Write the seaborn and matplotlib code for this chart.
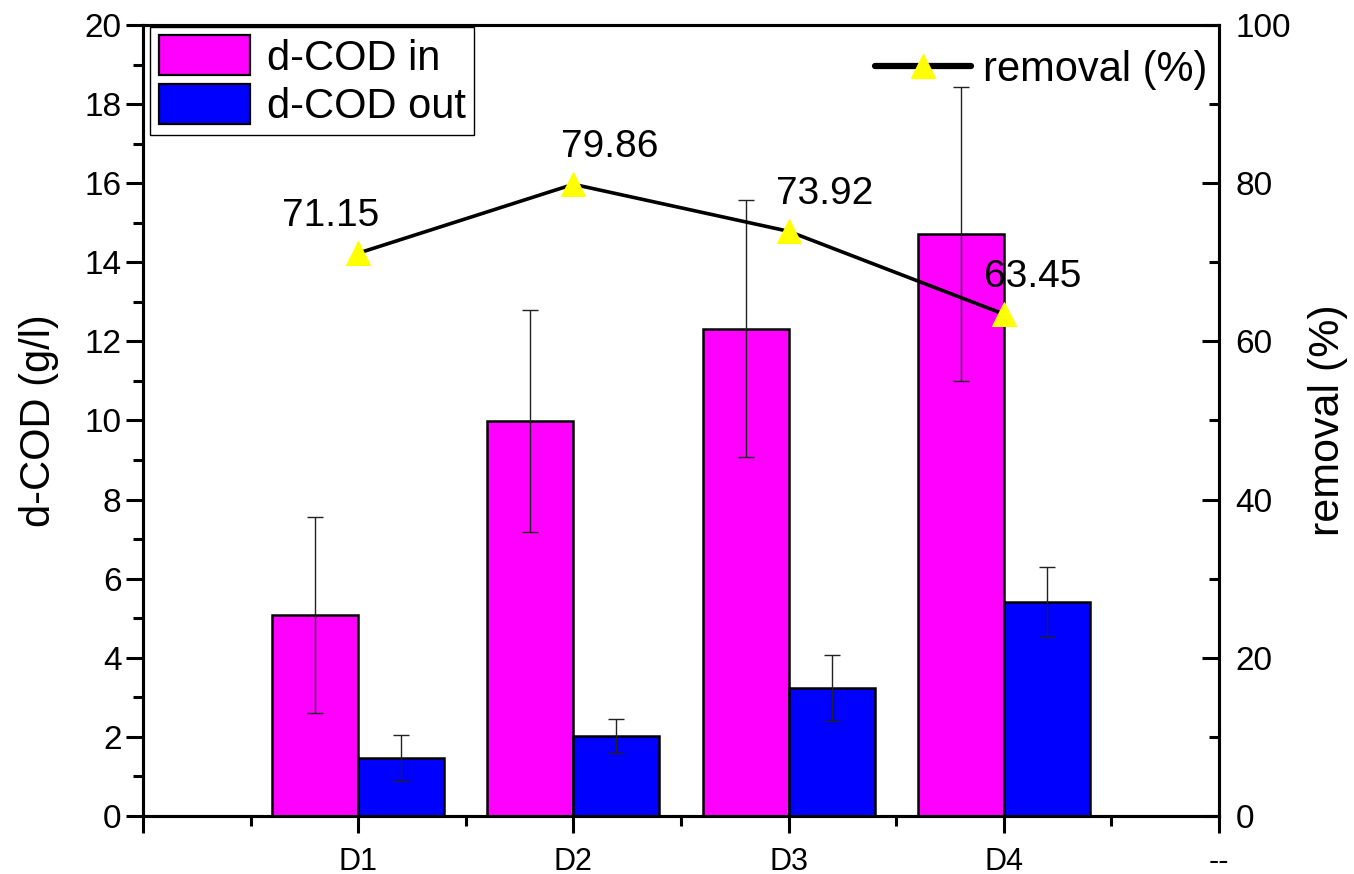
import matplotlib
matplotlib.use("Agg")
import matplotlib.pyplot as plt
import seaborn as sns
import numpy as np
import pandas as pd
from matplotlib.patches import Patch
from matplotlib.lines import Line2D
from matplotlib.ticker import MultipleLocator

# ---- data ----
digesters = ["D1", "D2", "D3", "D4"]
positions = [1, 2, 3, 4]
cod_in = [5.08, 9.99, 12.32, 14.72]
cod_in_sd = [2.47, 2.80, 3.25, 3.72]
cod_out = [1.47, 2.02, 3.23, 5.41]
cod_out_sd = [0.58, 0.43, 0.84, 0.88]
removal = [71.15, 79.86, 73.92, 63.45]
series_names = ["d-COD in", "d-COD out"]
tick_labels = ["", "D1", "D2", "D3", "D4", "--"]

# label nudges (points) for the removal annotations
label_dx = [-20, 26, 26, 21]

sns.set_theme(style="ticks")
plt.rcParams["font.family"] = ["Liberation Sans", "DejaVu Sans"]
plt.rcParams.update({
    "axes.linewidth": 2.2,
    "text.color": "black",
    "axes.labelcolor": "black",
    "xtick.color": "black",
    "ytick.color": "black",
    "axes.edgecolor": "black",
})

df = pd.DataFrame({
    "pos": positions * 2,
    "series": [series_names[0]] * 4 + [series_names[1]] * 4,
    "cod": cod_in + cod_out,
    "sd": cod_in_sd + cod_out_sd,
})

colors = {"d-COD in": "#FF00FF", "d-COD out": "#0000FF"}

fig = plt.figure(figsize=(13.54, 8.74), dpi=100)
ax = fig.add_axes([0.1056, 0.0664, 0.7947, 0.905])

sns.barplot(data=df, x="pos", y="cod", hue="series", native_scale=True,
            palette=colors, saturation=1, width=0.8, errorbar=None,
            edgecolor="black", linewidth=1.8, ax=ax, legend=False, zorder=2)

# error bars placed at the centre of each drawn bar
bars = [p for p in ax.patches if p.get_height() > 0]
bars.sort(key=lambda p: (p.get_facecolor()[0] < 0.5, p.get_x()))
for p, sd in zip(bars, cod_in_sd + cod_out_sd):
    xc = p.get_x() + p.get_width() / 2
    ax.errorbar(xc, p.get_height(), yerr=sd, fmt="none", ecolor="#222222",
                elinewidth=1.0, capsize=6, capthick=1.0, zorder=3)

ax.set_xlim(0, 5)
ax.set_ylim(0, 20)
ax.set_xticks(range(0, 6))
ax.set_xticklabels(tick_labels, fontsize=22)
ax.xaxis.set_minor_locator(MultipleLocator(0.5))
ax.yaxis.set_major_locator(MultipleLocator(2))
ax.yaxis.set_minor_locator(MultipleLocator(1))
ax.tick_params(axis="both", which="major", direction="out", length=12,
               width=2.2, labelsize=24, colors="black")
ax.tick_params(axis="x", which="major", labelsize=22, pad=10)
ax.tick_params(axis="both", which="minor", direction="out", length=7,
               width=2.2)
ax.set_xlabel("")
ax.set_ylabel("d-COD (g/l)", fontsize=30, labelpad=18)
for s in ax.spines.values():
    s.set_linewidth(2.2)
    s.set_color("black")

# removal efficiency on a secondary axis
ax2 = ax.twinx()
rem_df = pd.DataFrame({"pos": positions, "removal": removal})
sns.lineplot(data=rem_df, x="pos", y="removal", ax=ax2, color="black",
             linewidth=2.6, marker="^", markersize=17,
             markerfacecolor="#FFFF00", markeredgecolor="#FFFF00", zorder=4)
ax2.set_ylim(0, 100)
ax2.set_xlim(0, 5)
ax2.yaxis.set_major_locator(MultipleLocator(20))
ax2.yaxis.set_minor_locator(MultipleLocator(10))
ax2.tick_params(axis="y", which="major", direction="in", length=12,
                width=2.2, labelsize=24, pad=12)
ax2.tick_params(axis="y", which="minor", direction="in", length=7, width=2.2)
ax2.set_ylabel("removal (%)", fontsize=31, labelpad=12)
ax2.set_xlabel("")
for s in ax2.spines.values():
    s.set_linewidth(2.2)
    s.set_color("black")

for x, v, dx in zip(positions, removal, label_dx):
    ax2.annotate(f"{v:.2f}", (x, v), xytext=(dx, 14), textcoords="offset points",
                 ha="center", va="bottom", fontsize=28, zorder=5)

# legends
bar_handles = [Patch(facecolor=colors[n], edgecolor="black", linewidth=1.6)
               for n in series_names]
leg1 = ax2.legend(bar_handles, series_names, loc="upper left",
                  bbox_to_anchor=(0.005, 1.0), fontsize=30, frameon=True,
                  fancybox=False, edgecolor="black", framealpha=1,
                  handlelength=2.2, handleheight=1.1, labelspacing=0.12,
                  borderpad=0.2, handletextpad=0.4, borderaxespad=0.05)
leg1.get_frame().set_linewidth(1.0)
ax2.add_artist(leg1)

line_handle = Line2D([], [], color="black", linewidth=4.5, marker="^",
                     markersize=17, markerfacecolor="#FFFF00",
                     markeredgecolor="#FFFF00")
ax2.legend([line_handle], ["removal (%)"], loc="upper right",
           bbox_to_anchor=(1.009, 0.995), fontsize=30, frameon=False,
           handlelength=2.3, handletextpad=0.3, borderaxespad=0.1)

fig.savefig("out.png", dpi=100)
